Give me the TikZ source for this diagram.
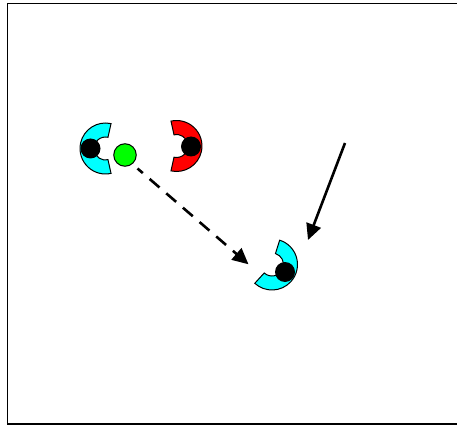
\documentclass[tikz,border=0pt]{standalone}
\usetikzlibrary{arrows.meta}
\definecolor{cyanfill}{RGB}{0,255,255}
\definecolor{redfill}{RGB}{255,0,0}
\definecolor{greenfill}{RGB}{0,255,0}
\begin{document}
\begin{tikzpicture}[x=1pt,y=1pt,
  magnet/.pic={\path[pic actions]
     (77.5:25.5) arc[start angle=77.5,end angle=282.5,radius=25.5]
     -- (282.5:11.5) arc[start angle=282.5,end angle=77.5,radius=11.5] -- cycle;},
  cstyle/.style={draw=black,line width=1pt},
  dotnode/.style={circle,fill=black,inner sep=0pt,minimum size=20pt},
  ballnode/.style={circle,draw=black,line width=1pt,fill=greenfill,inner sep=0pt,minimum size=22.5pt},
  arrowline/.style={line width=2.6pt,-{Triangle[length=16pt,width=15pt]}},
  frame/.style={line width=1.6pt}]
\useasboundingbox (0,0) rectangle (457,426);
\clip (0,0) rectangle (457,426);
\fill[white] (0,0) rectangle (457,426);
\draw[frame] (7.5,2) rectangle (470,422.5);
% magnets
\pic[cstyle,fill=cyanfill] (m1) at (105.5,277.5) {magnet};
\pic[cstyle,fill=redfill,rotate=180] (m2) at (176.5,280) {magnet};
\pic[cstyle,fill=cyanfill,rotate=150] (m3) at (272,161.5) {magnet};
% dots
\node[dotnode] (d1) at (90.5,277.5) {};
\node[dotnode] (d2) at (191,279.5) {};
\node[dotnode] (d3) at (285,154) {};
\node[ballnode] (g) at (125,271) {};
% arrows
\coordinate (s1) at (137.5,257.5);
\coordinate (t1) at (248.5,161.7);
\coordinate (s2) at (345,283);
\coordinate (t2) at (308,186);
\draw[arrowline,dash pattern=on 13pt off 9pt,dash phase=6pt] (s1) -- (t1);
\draw[arrowline] (s2) -- (t2);
\end{tikzpicture}
\end{document}
